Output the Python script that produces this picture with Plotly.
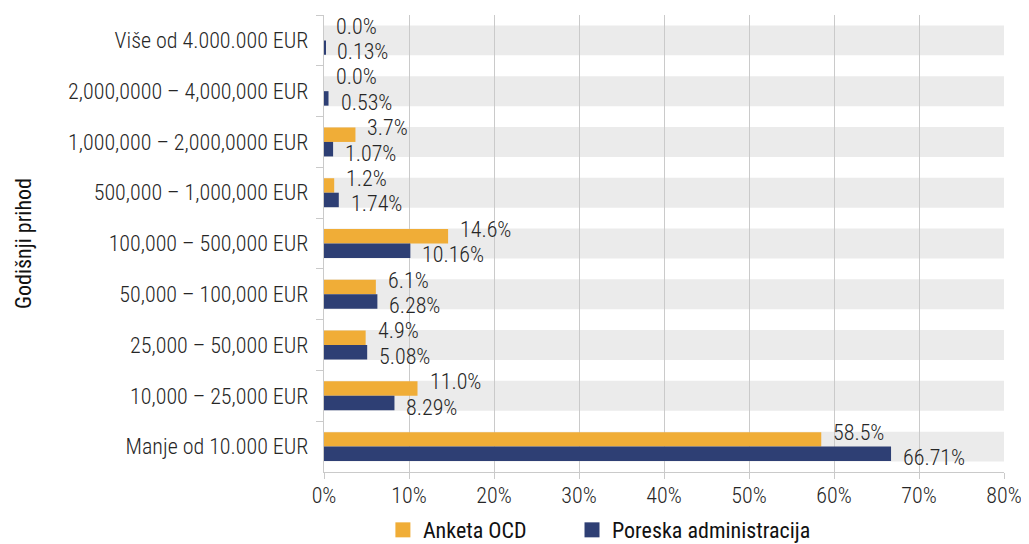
import plotly.graph_objects as go

categories = [
    "Više od 4.000.000 EUR",
    "2,000,0000 – 4,000,000 EUR",
    "1,000,000 – 2,000,0000 EUR",
    "500,000 – 1,000,000 EUR",
    "100,000 – 500,000 EUR",
    "50,000 – 100,000 EUR",
    "25,000 – 50,000 EUR",
    "10,000 – 25,000 EUR",
    "Manje od 10.000 EUR",
]
anketa_ocd = [0.0, 0.0, 3.7, 1.2, 14.6, 6.1, 4.9, 11.0, 58.5]
poreska = [0.13, 0.53, 1.07, 1.74, 10.16, 6.28, 5.08, 8.29, 66.71]
x_ticks = [0, 10, 20, 30, 40, 50, 60, 70, 80]
x_tick_text = ["0%", "10%", "20%", "30%", "40%", "50%", "60%", "70%", "80%"]

ORANGE = "#F0AD37"
NAVY = "#2E3F74"
GRID = "#CACACA"
BAND = "#EBEBEB"
FONT = "Roboto Condensed, Roboto, sans-serif"
LIGHT = dict(family=FONT, size=22, color="#262626", weight=300)

fig = go.Figure()

fig.add_trace(go.Bar(
    y=categories, x=anketa_ocd, orientation="h",
    name="Anketa OCD", marker_color=ORANGE,
    marker_line_width=0, showlegend=False,
))
fig.add_trace(go.Bar(
    y=categories, x=poreska, orientation="h",
    name="Poreska administracija", marker_color=NAVY,
    marker_line_width=0, showlegend=False,
))

# legend entries with bigger square swatches
legend_names = ["Anketa OCD" + "\u00a0" * 8, "Poreska administracija"]
for name, color in zip(legend_names, [ORANGE, NAVY]):
    fig.add_trace(go.Scatter(
        x=[None], y=[None], mode="markers", name=name,
        marker=dict(symbol="square", size=15, color=color),
    ))

# grey bands behind each category
for i in range(len(categories)):
    fig.add_shape(
        type="rect", xref="x domain", yref="y",
        x0=0, x1=1, y0=i - 0.295, y1=i + 0.295,
        fillcolor=BAND, line_width=0, layer="below",
    )

# value labels (Excel-like offsets)
half = 0.1425
for i, v in enumerate(anketa_ocd):
    fig.add_annotation(
        x=v, y=i - half, text=f"{v:.1f}%", showarrow=False,
        xanchor="left", xshift=10, yshift=7, font=LIGHT,
    )
for i, v in enumerate(poreska):
    fig.add_annotation(
        x=v, y=i + half, text=f"{v:.2f}%", showarrow=False,
        xanchor="left", xshift=10, yshift=-4, font=LIGHT,
    )

# page body has an 8px margin; figure is taller than the window so the
# legend doesn't squeeze the plot area (the overflow is simply cropped)
fig.update_layout(
    width=1021, height=560,
    margin=dict(l=316, r=23, t=7, b=96),
    barmode="group", bargap=0.43, bargroupgap=0,
    plot_bgcolor="white", paper_bgcolor="white",
    font=dict(family=FONT, size=22, color="#111111"),
    legend=dict(
        orientation="h",
        x=0.405, xanchor="center", y=-0.127, yanchor="middle",
        font=dict(size=22, color="#111111"), itemwidth=30,
    ),
    showlegend=True,
)

fig.update_xaxes(
    range=[0, 80], tickvals=x_ticks, ticktext=x_tick_text,
    tickfont=LIGHT, ticklabelstandoff=-3,
    showgrid=True, gridcolor=GRID, gridwidth=1.3,
    showline=True, linecolor=GRID, linewidth=1.3,
    ticks="outside", ticklen=6, tickcolor=GRID, tickwidth=1.3,
    zeroline=False, fixedrange=True,
)
fig.update_yaxes(
    autorange="reversed", tickfont=LIGHT,
    showline=True, linecolor=GRID, linewidth=1.3,
    ticks="outside", ticklen=7, tickcolor=GRID, tickwidth=1.3,
    tickson="boundaries", ticklabelstandoff=10,
    showgrid=False,
    title=dict(text="Godišnji prihod", standoff=30, font=dict(size=22, color="#111111")),
)

fig.write_html("out.html")
